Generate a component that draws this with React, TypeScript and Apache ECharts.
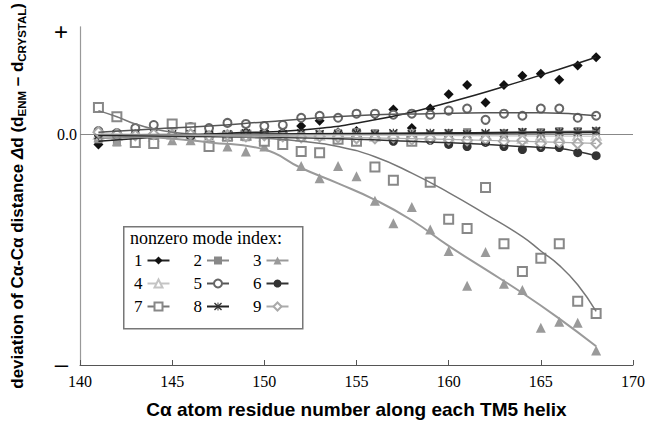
import React, { useEffect, useRef } from "react";
import * as echarts from "echarts";

// residue numbers (x)
const residues = [141, 142, 143, 144, 145, 146, 147, 148, 149, 150, 151, 152, 153, 154, 155, 156, 157, 158, 159, 160, 161, 162, 163, 164, 165, 166, 167, 168];

// deviation values per mode (markers)
const mode1Pts = [-0.10, -0.05, -0.01, -0.01, 0.00, 0.00, 0.01, 0.00, 0.02, 0.03, 0.02, 0.08, 0.13, 0.02, 0.03, 0.19, 0.24, 0.06, 0.25, 0.39, 0.48, 0.31, 0.48, 0.57, 0.59, 0.53, 0.67, 0.75];
const mode2Pts = [-0.05, -0.08, -0.03, -0.02, -0.01, 0.01, 0.00, -0.02, -0.03, -0.01, 0.00, -0.01, 0.00, 0.01, 0.02, 0.01, 0.00, 0.01, 0.00, 0.01, 0.02, 0.00, 0.01, 0.02, 0.02, 0.03, 0.03, 0.03];
const mode3Pts = [-0.03, -0.07, -0.05, -0.06, -0.06, -0.06, -0.08, -0.12, -0.17, -0.12, -0.10, -0.31, -0.43, -0.31, -0.41, -0.65, -0.87, -0.71, -0.93, -1.14, -1.48, -1.15, -1.46, -1.52, -1.89, -1.83, -1.84, -2.11];
const mode4Pts = [0.00, -0.01, 0.00, -0.02, 0.00, -0.01, -0.02, -0.01, -0.01, -0.02, 0.00, -0.02, -0.01, 0.00, -0.01, -0.02, -0.01, 0.00, -0.01, -0.02, -0.04, -0.01, -0.02, -0.04, -0.01, -0.02, -0.01, -0.01];
const mode5Pts = [0.03, 0.01, 0.06, 0.09, 0.10, 0.07, 0.06, 0.11, 0.10, 0.08, 0.09, 0.16, 0.18, 0.16, 0.20, 0.20, 0.19, 0.20, 0.19, 0.23, 0.25, 0.14, 0.20, 0.18, 0.25, 0.25, 0.16, 0.18];
const mode6Pts = [0.00, -0.01, 0.00, -0.01, -0.01, -0.02, -0.01, -0.02, -0.01, -0.01, -0.02, -0.03, -0.01, -0.04, -0.06, -0.03, -0.07, -0.05, -0.06, -0.10, -0.12, -0.08, -0.12, -0.15, -0.13, -0.13, -0.18, -0.21];
const mode7Pts = [0.26, 0.17, -0.08, -0.09, 0.10, 0.06, -0.12, -0.02, -0.01, -0.07, -0.10, -0.17, -0.18, -0.05, -0.07, -0.32, -0.45, -0.07, -0.47, -0.83, -0.92, -0.52, -1.07, -1.34, -1.21, -1.07, -1.63, -1.75];
const mode8Pts = [-0.01, 0.00, 0.00, 0.01, 0.00, 0.00, -0.01, 0.00, 0.01, 0.00, 0.00, 0.01, 0.00, 0.00, 0.01, 0.00, 0.01, 0.00, 0.01, 0.01, 0.00, 0.01, 0.01, 0.02, 0.01, 0.02, 0.02, 0.03];
const mode9Pts = [0.02, 0.00, -0.01, 0.00, -0.01, 0.00, -0.02, -0.01, -0.02, -0.01, -0.02, -0.03, -0.02, -0.03, -0.04, -0.04, -0.03, -0.05, -0.04, -0.05, -0.06, -0.05, -0.07, -0.06, -0.09, -0.08, -0.09, -0.09];

// fitted trend lines
const trend1X = [141, 144, 148, 152, 156, 160, 164, 168];
const trend1Y = [-0.07, -0.03, 0.01, 0.04, 0.14, 0.31, 0.52, 0.75];
const trend2X = [141, 150, 160, 168];
const trend2Y = [-0.04, -0.01, 0.01, 0.03];
const trend3X = [141, 144, 147, 150, 152, 154, 156, 158, 160, 162, 164, 166, 168];
const trend3Y = [-0.01, -0.03, -0.08, -0.15, -0.33, -0.48, -0.64, -0.84, -1.09, -1.32, -1.55, -1.80, -2.07];
const trend4X = [141, 155, 168];
const trend4Y = [0.00, -0.01, -0.02];
const trend5X = [141, 144, 147, 150, 153, 156, 159, 162, 165, 168];
const trend5Y = [0.02, 0.05, 0.08, 0.12, 0.16, 0.19, 0.20, 0.21, 0.21, 0.18];
const trend6X = [141, 145, 150, 155, 158, 161, 164, 166, 167, 168];
const trend6Y = [-0.01, -0.02, -0.03, -0.05, -0.07, -0.09, -0.12, -0.14, -0.17, -0.21];
const trend7X = [141, 142, 143, 144, 145, 147, 150, 152, 154, 156, 158, 160, 162, 164, 165, 166, 167, 168];
const trend7Y = [0.23, 0.17, 0.10, 0.05, 0.02, -0.01, -0.04, -0.07, -0.12, -0.22, -0.38, -0.57, -0.78, -1.00, -1.14, -1.28, -1.47, -1.73];
const trend8X = [141, 155, 168];
const trend8Y = [-0.01, 0.005, 0.02];
const trend9X = [141, 150, 160, 168];
const trend9Y = [0.00, -0.02, -0.05, -0.09];

const modeNames = ["1", "2", "3", "4", "5", "6", "7", "8", "9"];
const xTicks = [140, 145, 150, 155, 160, 165, 170];
const yLabelValues = [1.0, 0, -2.233];

const ASTERISK =
  "path://M0,1.2L1.2,0L5,3.8L8.8,0L10,1.2L6.2,5L10,8.8L8.8,10L5,6.2L1.2,10L0,8.8L3.8,5Z M4.4,0H5.6V10H4.4Z";

const modes = [
  { pts: mode1Pts, tx: trend1X, ty: trend1Y, symbol: "diamond", size: 10, color: "#111", line: "#222", lw: 1.5, empty: false },
  { pts: mode2Pts, tx: trend2X, ty: trend2Y, symbol: "rect", size: 8, color: "#888", line: "#888", lw: 1.5, empty: false },
  { pts: mode3Pts, tx: trend3X, ty: trend3Y, symbol: "triangle", size: 10, color: "#9a9a9a", line: "#9a9a9a", lw: 2, empty: false },
  { pts: mode4Pts, tx: trend4X, ty: trend4Y, symbol: "emptyTriangle", size: 9, color: "#c4c4c4", line: "#c4c4c4", lw: 1.2, empty: true },
  { pts: mode5Pts, tx: trend5X, ty: trend5Y, symbol: "emptyCircle", size: 8, color: "#666", line: "#555", lw: 1.5, empty: true },
  { pts: mode6Pts, tx: trend6X, ty: trend6Y, symbol: "circle", size: 9, color: "#333", line: "#333", lw: 1.5, empty: false },
  { pts: mode7Pts, tx: trend7X, ty: trend7Y, symbol: "emptyRect", size: 9, color: "#888", line: "#777", lw: 1.5, empty: true },
  { pts: mode8Pts, tx: trend8X, ty: trend8Y, symbol: ASTERISK, size: 9, color: "#333", line: "#222", lw: 2, empty: false },
  { pts: mode9Pts, tx: trend9X, ty: trend9Y, symbol: "emptyDiamond", size: 10, color: "#aaa", line: "#aaa", lw: 1.2, empty: true },
];

export default function App() {
  const ref = useRef<HTMLDivElement>(null);

  useEffect(() => {
    if (!ref.current) return;
    const chart = echarts.init(ref.current, undefined, { renderer: "svg" });

    const series: any[] = [];
    modes.forEach((m, i) => {
      series.push({
        type: "line",
        name: modeNames[i],
        data: m.tx.map((x, k) => [x, m.ty[k]]),
        smooth: true,
        symbol: m.symbol,
        symbolSize: m.size,
        showSymbol: false,
        silent: true,
        lineStyle: { color: m.line, width: m.lw },
        itemStyle: { color: m.color },
        z: 3,
        markLine:
          i === 0
            ? {
                silent: true,
                symbol: "none",
                label: { show: false },
                lineStyle: { color: "#888", width: 1, type: "solid" },
                data: [{ yAxis: 0 }],
              }
            : undefined,
      });
      series.push({
        type: "scatter",
        name: modeNames[i],
        data: residues.map((x, k) => [x, m.pts[k]]),
        symbol: m.symbol,
        symbolSize: m.size,
        silent: true,
        itemStyle: {
          color: m.color,
          borderColor: m.color,
          borderWidth: m.empty ? 1 : 0,
          opacity: 1,
        },
        z: 2,
      });
    });

    const rowTops = [252, 275, 298];
    const legends = [0, 1, 2].map((r) => ({
      data: modeNames.slice(r * 3, r * 3 + 3),
      orient: "horizontal",
      left: 134,
      top: rowTops[r],
      padding: 0,
      itemWidth: 22,
      itemHeight: 10,
      itemGap: 23,
      align: "right",
      selectedMode: false,
      z: 10,
      textStyle: { fontFamily: "Liberation Serif", fontSize: 17, color: "#000" },
    }));

    chart.setOption({
      animation: false,
      backgroundColor: "#fff",
      grid: { left: 80, right: 18, top: 25, bottom: 61, containLabel: false },
      xAxis: {
        type: "value",
        min: xTicks[0],
        max: xTicks[xTicks.length - 1],
        interval: 5,
        name: "Cα atom residue number along each TM5 helix",
        nameLocation: "middle",
        nameGap: 35,
        nameTextStyle: { fontFamily: "Liberation Sans", fontWeight: "bold", fontSize: 19, color: "#000" },
        axisLine: { show: true, onZero: false, lineStyle: { color: "#555", width: 1 } },
        axisTick: { show: true, inside: true, length: 5, lineStyle: { color: "#555" } },
        axisLabel: { margin: 8, fontFamily: "Liberation Serif", fontSize: 16, color: "#000" },
        splitLine: { show: false },
      },
      yAxis: {
        type: "value",
        min: -2.2524,
        max: 1.0485,
        name:
          "{a|deviation of Cα-Cα distance }{i|Δ}{a|d (d}{s|ENM}{a| – d}{s|CRYSTAL}{a|)}",
        nameLocation: "middle",
        nameRotate: 90,
        nameGap: 52,
        nameTextStyle: {
          rich: {
            a: { fontFamily: "Liberation Sans", fontWeight: "bold", fontSize: 17, color: "#000", lineHeight: 22 },
            i: { fontFamily: "Liberation Sans", fontWeight: "bold", fontStyle: "italic", fontSize: 17, color: "#000", lineHeight: 22 },
            s: { fontFamily: "Liberation Sans", fontWeight: "bold", fontSize: 11.5, color: "#000", lineHeight: 13, verticalAlign: "bottom" },
          },
        },
        axisLine: { show: true, onZero: false, lineStyle: { color: "#999", width: 1.2 } },
        axisTick: { show: false },
        splitLine: { show: false },
        axisLabel: {
          customValues: yLabelValues,
          margin: 3,
          formatter: (v: number) => (v > 0.5 ? "{p|+}" : v < -1 ? "{p|–}" : "0.0"),
          fontFamily: "Liberation Serif",
          fontSize: 16,
          color: "#000",
          rich: {
            p: { fontFamily: "Liberation Sans", fontSize: 24, color: "#000", padding: [0, 9, 0, 0] },
          },
        },
      },
      legend: legends,
      graphic: [
        {
          type: "rect",
          left: 123,
          top: 226,
          z: 5,
          shape: { width: 179, height: 102 },
          style: { fill: "#fff", stroke: "#777", lineWidth: 1.5 },
        },
        {
          type: "text",
          left: 130,
          top: 229,
          z: 6,
          style: { text: "nonzero mode index:", font: '18px "Liberation Serif"', fill: "#000" },
        },
      ],
      series,
    });

    return () => chart.dispose();
  }, []);

  return (
    <div
      ref={ref}
      style={{ position: "fixed", left: 0, top: 0, width: 651, height: 426, background: "#fff" }}
    />
  );
}
